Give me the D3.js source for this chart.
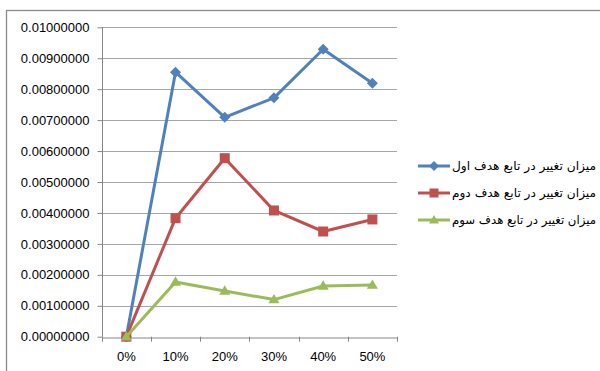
<!DOCTYPE html>
<html>
<head>
<meta charset="utf-8">
<script src="https://cdn.jsdelivr.net/npm/d3@7"></script>
<style>
  html, body { margin: 0; padding: 0; background: #fff; }
  svg { display: block; }
</style>
</head>
<body>
<svg id="chart" width="600" height="371"></svg>
<script>
// Categories along the x axis
const categories = ["0%", "10%", "20%", "30%", "40%", "50%"];

// Series values
const objective1 = [0, 0.00855, 0.00709, 0.00772, 0.00929, 0.00819];
const objective2 = [0, 0.00383, 0.00577, 0.00408, 0.00340, 0.00379];
const objective3 = [0, 0.00177, 0.00148, 0.00120, 0.00164, 0.00167];

// Legend labels
const seriesNames = [
  "میزان تغییر در تابع هدف اول",
  "میزان تغییر در تابع هدف دوم",
  "میزان تغییر در تابع هدف سوم"
];

// Y tick values
const yTicks = [0, 0.001, 0.002, 0.003, 0.004, 0.005, 0.006, 0.007, 0.008, 0.009, 0.01];

// Marker shapes: `size` is the marker's full width in pixels
const diamond = { draw(ctx, size) { const r = size / 2; ctx.moveTo(0, -r); ctx.lineTo(r, 0); ctx.lineTo(0, r); ctx.lineTo(-r, 0); ctx.closePath(); } };
const square = { draw(ctx, size) { const r = size / 2; ctx.rect(-r, -r, size, size); } };
const triangle = { draw(ctx, size) { const r = size / 2, h = size * 0.85; ctx.moveTo(0, -h * 0.6); ctx.lineTo(r, h * 0.4); ctx.lineTo(-r, h * 0.4); ctx.closePath(); } };

const series = [
  { name: seriesNames[0], values: objective1, color: "#4F81BD", symbol: diamond, size: 11 },
  { name: seriesNames[1], values: objective2, color: "#C0504D", symbol: square, size: 10 },
  { name: seriesNames[2], values: objective3, color: "#9BBB59", symbol: triangle, size: 11 }
];

const svg = d3.select("#chart");
const font = "'Liberation Sans', Arial, sans-serif";

// Chart frame
svg.append("rect")
  .attr("x", 6.5).attr("y", 10.5)
  .attr("width", 640).attr("height", 400)
  .attr("fill", "none").attr("stroke", "#8a8a8a").attr("stroke-width", 1.3);

const plot = { left: 101.7, right: 397, top: 27.3, bottom: 336.7 };

const x = d3.scaleBand().domain(categories).range([plot.left, plot.right]);
const y = d3.scaleLinear().domain([0, 0.01]).range([plot.bottom, plot.top]);

// Horizontal gridlines
svg.append("g")
  .selectAll("line")
  .data(yTicks.filter(t => t > 0))
  .join("line")
  .attr("x1", plot.left).attr("x2", plot.right)
  .attr("y1", d => Math.round(y(d)) + 0.5).attr("y2", d => Math.round(y(d)) + 0.5)
  .attr("stroke", "#a6a6a6").attr("stroke-width", 1);

// Y axis
const yAxis = svg.append("g")
  .attr("transform", `translate(${Math.round(plot.left) + 0.5},0)`)
  .call(d3.axisLeft(y).tickValues(yTicks).tickFormat(d3.format(".8f")).tickSize(5).tickPadding(8));
yAxis.select(".domain").attr("stroke", "#868686").attr("d", `M-0,${plot.bottom}V${plot.top}`);
yAxis.selectAll(".tick line").attr("stroke", "#868686");
yAxis.selectAll(".tick text")
  .attr("font-family", font).attr("font-size", 13).attr("fill", "#000");

// X axis
const xAxis = svg.append("g")
  .attr("transform", `translate(0,${Math.round(plot.bottom) + 0.5})`)
  .call(d3.axisBottom(x).tickSize(0).tickPadding(14));
xAxis.select(".domain").attr("stroke", "#868686");
xAxis.selectAll(".tick text")
  .attr("font-family", font).attr("font-size", 13).attr("fill", "#000");
// Tick marks on category boundaries
svg.append("g")
  .selectAll("line")
  .data(d3.range(categories.length + 1))
  .join("line")
  .attr("x1", i => Math.round(plot.left + i * x.step()) + 0.5)
  .attr("x2", i => Math.round(plot.left + i * x.step()) + 0.5)
  .attr("y1", plot.bottom).attr("y2", plot.bottom + 5)
  .attr("stroke", "#868686");

// Lines and markers
const cx = (d, i) => x(categories[i]) + x.bandwidth() / 2;
const line = d3.line().x(cx).y(d => y(d));

series.forEach(s => {
  svg.append("path")
    .datum(s.values)
    .attr("d", line)
    .attr("fill", "none")
    .attr("stroke", s.color)
    .attr("stroke-width", 3)
    .attr("stroke-linejoin", "round");
  svg.append("g")
    .selectAll("path")
    .data(s.values)
    .join("path")
    .attr("transform", (d, i) => `translate(${cx(d, i)},${y(d)})`)
    .attr("d", d3.symbol().type(s.symbol).size(s.size))
    .attr("fill", s.color);
});

// Legend
const legend = svg.append("g");
series.forEach((s, i) => {
  const ly = 166 + i * 27;
  legend.append("line")
    .attr("x1", 418).attr("x2", 450).attr("y1", ly).attr("y2", ly)
    .attr("stroke", s.color).attr("stroke-width", 3);
  legend.append("path")
    .attr("transform", `translate(434,${ly})`)
    .attr("d", d3.symbol().type(s.symbol).size(s.size - 1))
    .attr("fill", s.color);
  legend.append("text")
    .attr("x", 452).attr("y", ly + 4)
    .attr("text-anchor", "start")
    .attr("font-family", "'DejaVu Sans', sans-serif")
    .attr("font-size", 12)
    .attr("textLength", 144)
    .attr("lengthAdjust", "spacingAndGlyphs")
    .attr("fill", "#000")
    .text(s.name);
});
</script>
</body>
</html>
